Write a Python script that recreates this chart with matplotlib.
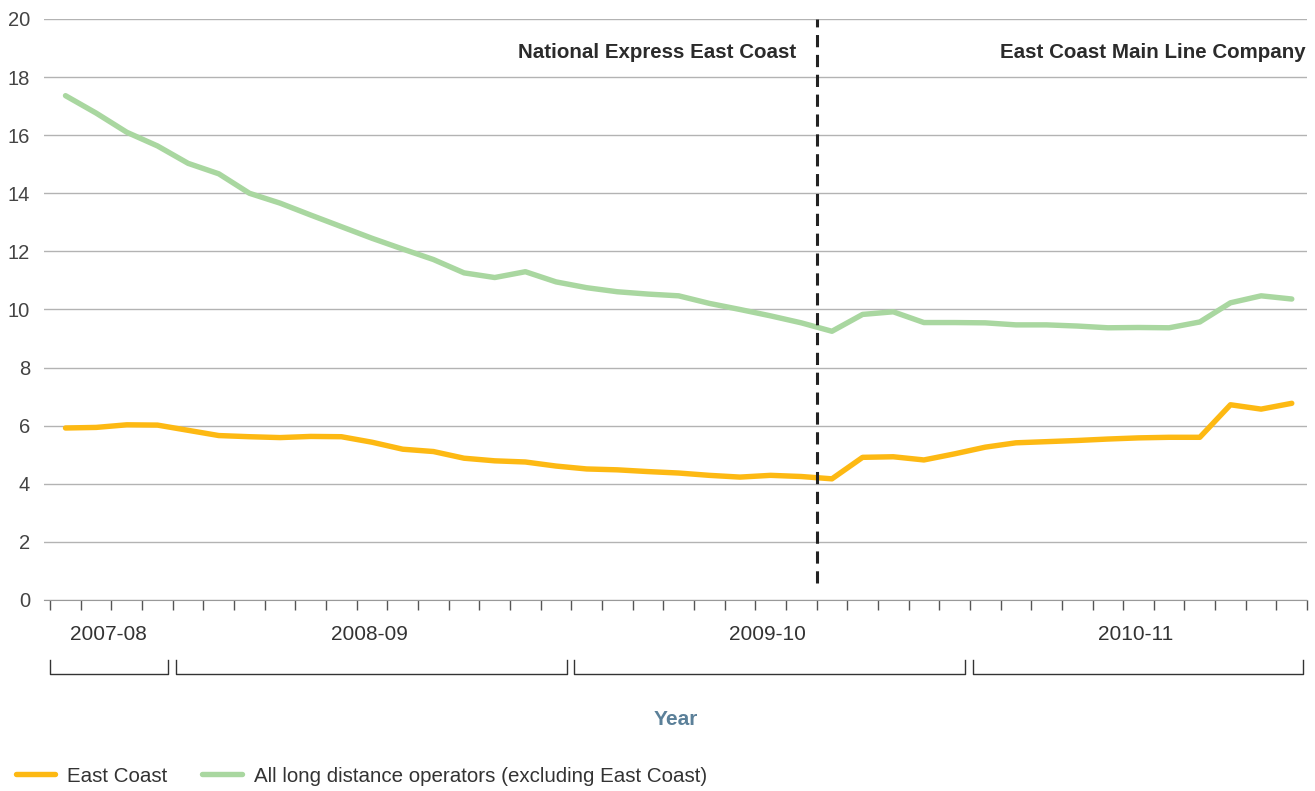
import matplotlib
matplotlib.use("Agg")
import matplotlib.pyplot as plt
from matplotlib.lines import Line2D

plt.rcParams['font.family'] = ['Liberation Sans', 'DejaVu Sans']

# rail periods, 41 of them, from the end of 2007-08 to 2010-11
east_coast = [5.92, 5.94, 6.03, 6.02, 5.84, 5.66, 5.62, 5.59, 5.63, 5.62,
              5.43, 5.19, 5.11, 4.88, 4.79, 4.75, 4.61, 4.51, 4.48, 4.42,
              4.37, 4.29, 4.23, 4.29, 4.25, 4.17, 4.91, 4.93, 4.82, 5.03,
              5.26, 5.41, 5.45, 5.49, 5.54, 5.58, 5.60, 5.60, 6.72, 6.57, 6.77]
all_long = [17.36, 16.76, 16.10, 15.63, 15.03, 14.67, 14.00, 13.66, 13.25, 12.85,
            12.45, 12.08, 11.72, 11.26, 11.10, 11.30, 10.95, 10.75, 10.61, 10.53,
            10.47, 10.21, 10.00, 9.78, 9.54, 9.25, 9.83, 9.92, 9.55, 9.55,
            9.54, 9.47, 9.47, 9.43, 9.37, 9.38, 9.37, 9.57, 10.23, 10.47, 10.36]
years = ['2007-08', '2008-09', '2009-10', '2010-11']
periods_per_year = [4, 13, 13, 11]
franchise_change = 25  # first period of East Coast Main Line Company
operators = ['National Express East Coast', 'East Coast Main Line Company']

orange = '#FDB913'
green = '#A9D7A0'

fig = plt.figure(figsize=(13.15, 7.91), dpi=100)
ax = fig.add_axes([0.0335, 0.2415, 0.9605, 0.7345])

x = list(range(len(east_coast)))
ax.plot(x, all_long, color=green, lw=3.9, solid_capstyle='round', zorder=3)
ax.plot(x, east_coast, color=orange, lw=3.9, solid_capstyle='round', zorder=3)

ax.set_ylim(0, 20)
ax.set_xlim(-0.7, len(x) - 0.5)
ax.set_yticks(range(0, 21, 2))
ax.tick_params(axis='y', length=0, pad=10, labelsize=14.5, labelcolor='#444444')
ax.set_xticks([i - 0.5 for i in range(len(x) + 1)])
ax.set_xticklabels([])
ax.tick_params(axis='x', direction='out', length=7, width=1, color='#555555')
ax.grid(axis='y', color='#b3b3b3', lw=1)
ax.set_axisbelow(True)
for s in ['top', 'right', 'left']:
    ax.spines[s].set_visible(False)
ax.spines['bottom'].set_color('#999999')

# franchise change
ax.plot([franchise_change - 0.5] * 2, [0.6, 20], color='#222222', lw=2.2,
        dashes=(4, 2.5), zorder=4)
ax.text(franchise_change - 1.15, 18.85, operators[0], ha='right', va='center',
        fontsize=14.8, fontweight='bold', color='#2b2b2b')
ax.text(len(x) - 0.55, 18.85, operators[1], ha='right', va='center',
        fontsize=14.8, fontweight='bold', color='#2b2b2b')

# year labels and brackets below the axis
tr = ax.get_xaxis_transform()
start = -0.5
for yr, n in zip(years, periods_per_year):
    end = start + n
    a = start + (0.0 if start < 0 else 0.1)
    b = end - 0.15
    ax.plot([a, a, b, b], [-0.103, -0.127, -0.127, -0.103], transform=tr,
            color='#333333', lw=1, clip_on=False)
    ax.text((start + end) / 2 - 0.1, -0.06, yr, transform=tr, ha='center', va='center',
            fontsize=15, color='#333333')
    start = end

ax.text(0.5, -0.205, 'Year', transform=ax.transAxes, ha='center', va='center',
        fontsize=15, fontweight='bold', color='#5b8099')

handles = [Line2D([], [], color=orange, lw=3.9, solid_capstyle='round'),
           Line2D([], [], color=green, lw=3.9, solid_capstyle='round')]
fig.legend(handles, ['East Coast', 'All long distance operators (excluding East Coast)'],
           loc='center left', bbox_to_anchor=(-0.002, 1 - 776 / 791), ncol=2,
           frameon=False, fontsize=14.8, handlelength=1.9, handletextpad=0.6,
           columnspacing=1.7, labelcolor='#333333')

fig.savefig('out.png', dpi=100)
